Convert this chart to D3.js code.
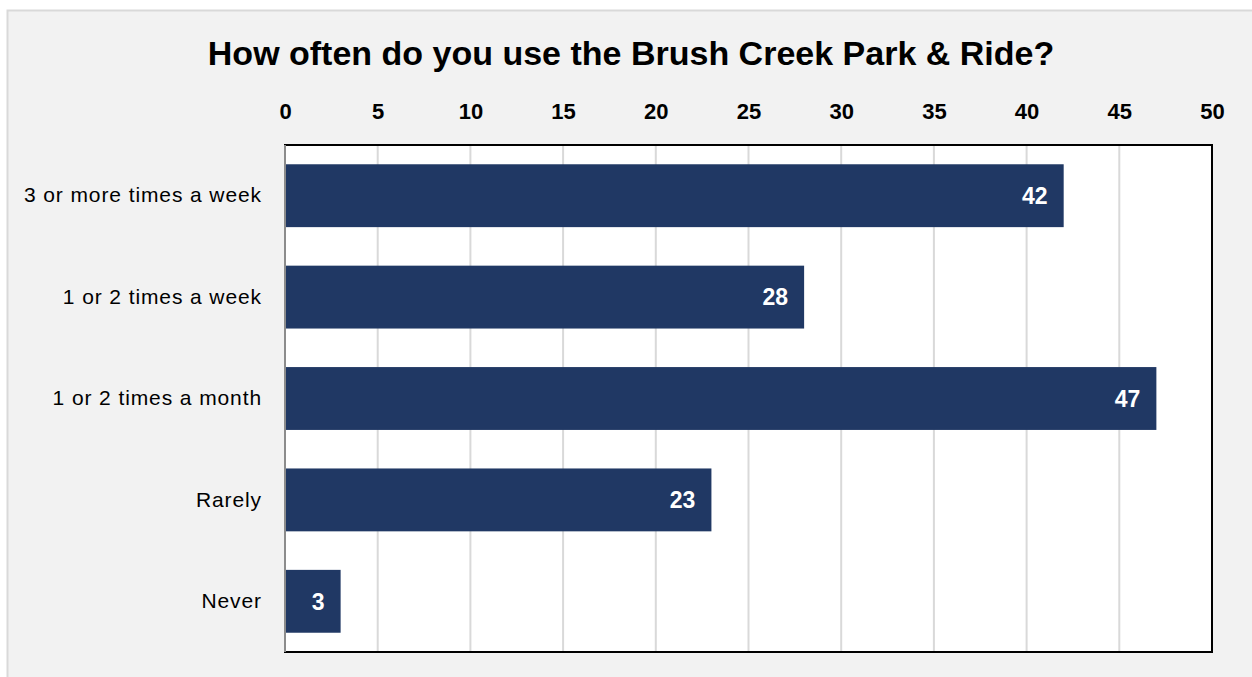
<!DOCTYPE html>
<html>
<head>
<meta charset="utf-8">
<script src="https://cdn.jsdelivr.net/npm/d3@7"></script>
<style>
  body { margin: 0; background: #fff; }
  svg { display: block; font-family: "Liberation Sans", Arial, sans-serif; }
</style>
</head>
<body>
<div id="chart"></div>
<script>
var categories = ["3 or more times a week", "1 or 2 times a week", "1 or 2 times a month", "Rarely", "Never"];
var values = [42, 28, 47, 23, 3];
var ticks = [0, 5, 10, 15, 20, 25, 30, 35, 40, 45, 50];
var title = "How often do you use the Brush Creek Park & Ride?";

var width = 1252;
var height = 677;
var margin = { left: 285, right: 40, top: 145, bottom: 25 };

var svg = d3.select("#chart").
    append("svg").
    attr("width", width).
    attr("height", height);

// chart background
svg.append("rect").
    attr("x", 7.5).
    attr("y", 10.5).
    attr("width", width).
    attr("height", height).
    attr("fill", "#f2f2f2").
    attr("stroke", "#d9d9d9").
    attr("stroke-width", 2);

var xScale = d3.scaleLinear().
    domain([0, 50]).
    range([margin.left, width - margin.right]);

var yScale = d3.scaleBand().
    domain(categories).
    range([margin.top, height - margin.bottom]).
    paddingInner(0.38).
    paddingOuter(0.19);

// plot area
svg.append("rect").
    attr("x", margin.left).
    attr("y", margin.top).
    attr("width", xScale(50) - margin.left).
    attr("height", height - margin.bottom - margin.top).
    attr("fill", "#fff");

// gridlines
svg.selectAll("line.grid").
    data(ticks.slice(1, -1)).
    enter().
    append("line").
    attr("class", "grid").
    attr("x1", function (d) { return xScale(d); }).
    attr("x2", function (d) { return xScale(d); }).
    attr("y1", margin.top).
    attr("y2", height - margin.bottom).
    attr("stroke", "#d9d9d9").
    attr("stroke-width", 2);

// bars
svg.selectAll("rect.bar").
    data(values).
    enter().
    append("rect").
    attr("class", "bar").
    attr("x", xScale(0)).
    attr("y", function (d, i) { return yScale(categories[i]); }).
    attr("width", function (d) { return xScale(d) - xScale(0); }).
    attr("height", yScale.bandwidth()).
    attr("fill", "#203864");

// value labels
svg.selectAll("text.value").
    data(values).
    enter().
    append("text").
    attr("class", "value").
    attr("x", function (d) { return xScale(d) - 16; }).
    attr("y", function (d, i) { return yScale(categories[i]) + yScale.bandwidth() / 2; }).
    attr("dy", "0.36em").
    attr("text-anchor", "end").
    attr("fill", "#fff").
    attr("font-weight", "bold").
    attr("font-size", 23).
    text(function (d) { return d; });

// plot border
svg.append("rect").
    attr("x", margin.left).
    attr("y", margin.top).
    attr("width", xScale(50) - margin.left).
    attr("height", height - margin.bottom - margin.top).
    attr("fill", "none").
    attr("stroke", "#000").
    attr("stroke-width", 2);

svg.append("line").
    attr("x1", margin.left).
    attr("x2", margin.left).
    attr("y1", margin.top).
    attr("y2", height - margin.bottom).
    attr("stroke", "#8c8c8c").
    attr("stroke-width", 2);

// top axis
var xAxis = d3.axisTop(xScale).
    tickValues(ticks).
    tickSize(0).
    tickPadding(0);

var gx = svg.append("g").
    attr("transform", "translate(0," + 119 + ")").
    call(xAxis);
gx.select(".domain").remove();
gx.selectAll("text").
    attr("font-family", "Liberation Sans, Arial, sans-serif").
    attr("font-size", 22).
    attr("font-weight", "bold").
    attr("fill", "#000");

// category axis
var yAxis = d3.axisLeft(yScale).
    tickSize(0).
    tickPadding(23);

var gy = svg.append("g").
    attr("transform", "translate(" + margin.left + ",0)").
    call(yAxis);
gy.select(".domain").remove();
gy.selectAll("text").
    attr("font-family", "Liberation Sans, Arial, sans-serif").
    attr("font-size", 21).
    attr("letter-spacing", 0.9).
    attr("fill", "#000");

// title
svg.append("text").
    attr("x", 631).
    attr("y", 65).
    attr("text-anchor", "middle").
    attr("font-size", 34).
    attr("font-weight", "bold").
    attr("fill", "#000").
    text(title);
</script>
</body>
</html>
